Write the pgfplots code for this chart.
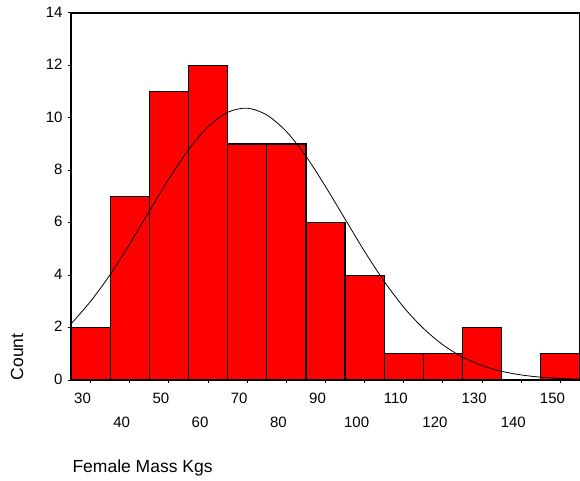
\documentclass[border=0pt]{standalone}
\usepackage{pgfplots}
\pgfplotsset{compat=1.18}
\usepackage{fontspec}
\setmainfont{Liberation Sans}
\begin{document}
\begin{tikzpicture}
\begin{axis}[
  name=ax,
  scale only axis,
  width=509pt, height=367pt,
  xmin=25, xmax=155, ymin=0, ymax=14,
  ytick={0,2,...,14},
  xtick={30,50,...,150},
  extra x ticks={40,60,...,140},
  extra x tick style={xticklabel style={yshift=-24pt}},
  xtick pos=bottom, ytick pos=left,
  /pgf/number format/assume math mode=true,
  tick align=outside,
  major tick length=3pt,
  tick style={black, line width=1pt},
  tick label style={font=\fontsize{15}{17}\selectfont},
  xticklabel style={xshift=-8pt, yshift=-6pt},
  yticklabel style={xshift=-2pt, yshift=1pt},
  axis line style={black, line width=1.3pt},
  xlabel={Female Mass Kgs},
  ylabel={Count},
  label style={font=\fontsize{17.5}{20}\selectfont},
  xlabel style={at={(axis description cs:0.002,-0.24)}, anchor=west, xshift=-3pt},
  ylabel style={at={(axis description cs:-0.106,0.0627)}, anchor=center, rotate=0},
  clip=false,
]
\addplot[ybar interval, fill={rgb,255:red,255;green,0;blue,0}, draw=black, line width=1.2pt]
coordinates {(25,2) (35,7) (45,11) (55,12) (65,9) (75,9) (85,6) (95,4) (105,1) (115,1) (125,2) (135,0) (145,1) (155,1)};
\addplot[smooth, black, line width=0.8pt, mark=none]
coordinates {(25,2.14) (30,3.00) (35,4.02) (40,5.19) (45,6.44) (50,7.67) (55,8.78) (60,9.66) (65,10.21) (70,10.37) (75,10.11) (80,9.48) (85,8.54) (90,7.38) (95,6.14) (100,4.90) (105,3.76) (110,2.77) (115,1.97) (120,1.34) (125,0.874) (130,0.549) (135,0.332) (140,0.192) (145,0.107) (150,0.057) (155,0.029)};
\end{axis}
\pgfresetboundingbox
\path (ax.south west) ++(-71pt,-101pt) rectangle ++(580pt,481pt);
\end{tikzpicture}
\end{document}
